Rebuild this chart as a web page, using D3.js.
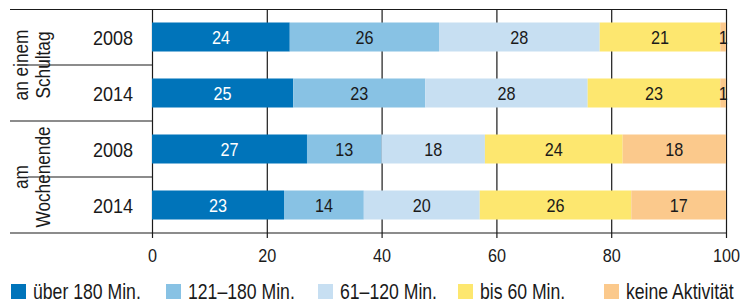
<!DOCTYPE html>
<html>
<head>
<meta charset="utf-8">
<script src="https://cdn.jsdelivr.net/npm/d3@7"></script>
<style>
  body { margin: 0; background: #fff; }
  svg { display: block; }
  text { font-family: 'Liberation Sans', Arial, sans-serif; fill: #1a1a1a; }
</style>
</head>
<body>
<svg id="chart" width="749" height="305"></svg>
<script>
// data (percent per row)
const groupLabels = [['an einem', 'Schultag'], ['am', 'Wochenende']];
const rowKeys = ['schule2008', 'schule2014', 'wochenende2008', 'wochenende2014'];
const years = ['2008', '2014', '2008', '2014'];
const categories = ['über 180 Min.', '121–180 Min.', '61–120 Min.', 'bis 60 Min.', 'keine Aktivität'];
const over180 = [24, 24.6, 27, 23];
const min121to180 = [26, 23, 13, 13.9];
const min61to120 = [28, 28.3, 18, 20.2];
const upTo60 = [21, 23.1, 24, 26.4];
const noActivity = [1, 1, 18, 16.5];
const xTicks = [0, 20, 40, 60, 80, 100];
const colors = ['#0074ba', '#88c2e4', '#c7dff2', '#fde76f', '#fbc98c'];

const series = [over180, min121to180, min61to120, upTo60, noActivity];
const table = rowKeys.map((k, i) => {
  const row = { key: k };
  categories.forEach((c, j) => { row[c] = series[j][i]; });
  return row;
});

const margin = { top: 9, right: 23, bottom: 72, left: 152 };
const width = 749, height = 305;
// no condensed face installed, squeeze Liberation Sans instead
const narrow = ' scale(0.82,1)';
const narrowNum = ' scale(0.9,1)';
const svg = d3.select('#chart');

const x = d3.scaleLinear().domain([0, 100]).range([margin.left, width - margin.right]);
const y = d3.scaleBand().domain(rowKeys)
  .range([margin.top, height - margin.bottom])
  .paddingInner(0.482).paddingOuter(0.241);

const plotBottom = height - margin.bottom;
const lineColor = '#1a1a1a';

// vertical grid lines
svg.append('g')
  .attr('transform', 'translate(0,' + plotBottom + ')')
  .call(d3.axisBottom(x).tickValues(xTicks).tickSize(-(plotBottom - margin.top)).tickFormat(''))
  .call(g => g.select('.domain').remove())
  .call(g => g.selectAll('line').attr('stroke', lineColor).attr('stroke-width', 1.2));

// bars
const stacked = d3.stack().keys(categories)(table);
const layer = svg.append('g').selectAll('g')
  .data(stacked)
  .join('g')
  .attr('fill', (d, i) => colors[i]);

layer.selectAll('rect')
  .data(d => d)
  .join('rect')
  .attr('x', d => x(d[0]))
  .attr('y', d => y(d.data.key))
  .attr('width', d => x(d[1]) - x(d[0]))
  .attr('height', y.bandwidth());

layer.selectAll('text')
  .data((d, i) => d.map(v => ({ v: v, i: i })))
  .join('text')
  .attr('transform', d => 'translate(' + (x(d.v[0]) + x(d.v[1])) / 2 + ',' +
    (y(d.v.data.key) + y.bandwidth() / 2 + 7) + ')' + narrowNum)
  .attr('text-anchor', 'middle')
  .style('font-size', '18px')
  .style('fill', d => d.i === 0 ? '#fff' : '#1a1a1a')
  .text(d => Math.round(d.v[1] - d.v[0]));

// left frame lines
const step = y.step();
svg.append('line')
  .attr('x1', 10).attr('x2', x(100))
  .attr('y1', margin.top + 0.5).attr('y2', margin.top + 0.5)
  .attr('stroke', lineColor).attr('stroke-width', 1.2);
svg.append('line')
  .attr('x1', 10).attr('x2', x(100))
  .attr('y1', plotBottom).attr('y2', plotBottom)
  .attr('stroke', lineColor).attr('stroke-width', 1.2);
svg.append('line')
  .attr('x1', 10).attr('x2', x(0))
  .attr('y1', margin.top + 2 * step).attr('y2', margin.top + 2 * step)
  .attr('stroke', lineColor).attr('stroke-width', 1.2);
[1, 3].forEach(r => {
  svg.append('line')
    .attr('x1', 28).attr('x2', x(0))
    .attr('y1', margin.top + r * step).attr('y2', margin.top + r * step)
    .attr('stroke', lineColor).attr('stroke-width', 1.2);
});

// year labels
svg.append('g').selectAll('text')
  .data(rowKeys)
  .join('text')
  .attr('transform', d => 'translate(113,' + (y(d) + y.bandwidth() / 2 + 7.5) + ') scale(0.86,1)')
  .attr('text-anchor', 'middle')
  .style('font-size', '21px')
  .text((d, i) => years[i]);

// group labels, rotated
groupLabels.forEach((lines, gi) => {
  const cy = margin.top + (gi * 2 + 1) * step;
  const t = svg.append('text')
    .attr('transform', 'translate(28,' + cy + ') rotate(-90)' + narrow)
    .attr('text-anchor', 'middle')
    .style('font-size', '21px');
  lines.forEach((l, li) => {
    t.append('tspan').attr('x', 0).attr('y', li * 22).text(l);
  });
});

// x axis ticks + labels
svg.append('g')
  .attr('transform', 'translate(0,' + plotBottom + ')')
  .call(d3.axisBottom(x).tickValues(xTicks).tickSize(5).tickPadding(11))
  .call(g => g.select('.domain').remove())
  .call(g => g.selectAll('line').attr('stroke', lineColor).attr('stroke-width', 1.2))
  .call(g => g.selectAll('text').style('font-size', '18px').attr('fill', '#1a1a1a')
    .attr('transform', narrowNum.trim())
    .style('font-family', "'Liberation Sans', Arial, sans-serif"));

// legend
const legendX = [11, 166, 318, 458, 604];
const legend = svg.append('g').selectAll('g')
  .data(categories)
  .join('g')
  .attr('transform', (d, i) => 'translate(' + legendX[i] + ',284)');
legend.append('rect')
  .attr('width', 15).attr('height', 15)
  .attr('fill', (d, i) => colors[i]);
legend.append('text')
  .attr('transform', 'translate(22,15)' + narrow)
  .style('font-size', '21.5px')
  .text(d => d);
</script>
</body>
</html>
